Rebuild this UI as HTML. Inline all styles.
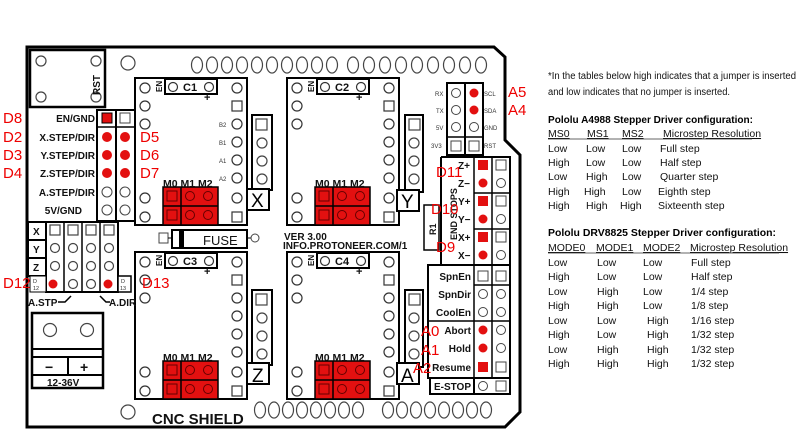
<!DOCTYPE html>
<html><head><meta charset="utf-8"><style>
html,body{margin:0;padding:0;background:#fff;width:800px;height:438px;overflow:hidden}
svg{display:block}
.b{font-family:"Liberation Sans",sans-serif;font-weight:bold;fill:#111}
.r{font-family:"Liberation Sans",sans-serif;fill:#e00;font-size:15px}
.t{font-family:"Liberation Sans",sans-serif;fill:#111;font-size:10.5px}
</style></head><body>
<svg width="800" height="438" viewBox="0 0 800 438" xmlns="http://www.w3.org/2000/svg">
<defs>
<g id="mod">
<rect x="0" y="0" width="112" height="147" fill="#fff" stroke="#000" stroke-width="2"/>
<rect x="30" y="1" width="52" height="15" fill="#fff" stroke="#000" stroke-width="2"/>
<g fill="#fff" stroke="#333" stroke-width="1.2">
<circle cx="38" cy="9" r="4.5"/><circle cx="74" cy="9" r="4.5"/>
<circle cx="10" cy="10" r="5"/><circle cx="10" cy="28" r="5"/><circle cx="10" cy="46" r="5"/><circle cx="10" cy="120" r="5"/><circle cx="10" cy="139" r="5"/>
<circle cx="102" cy="10" r="5"/><rect x="97" y="23" width="10" height="10"/><circle cx="102" cy="46" r="5"/><circle cx="102" cy="64" r="5"/><circle cx="102" cy="82" r="5"/><circle cx="102" cy="100" r="5"/><circle cx="102" cy="120" r="5"/><rect x="97" y="134" width="10" height="10"/>
</g>
<rect x="28" y="109" width="55" height="38" fill="#e31010" stroke="#000" stroke-width="1.5"/>
<line x1="28" y1="128" x2="83" y2="128" stroke="#000" stroke-width="1.5"/>
<line x1="46" y1="109" x2="46" y2="147" stroke="#000" stroke-width="1.5"/>
<g fill="none" stroke="#600" stroke-width="1">
<rect x="32" y="113" width="10" height="10"/><rect x="32" y="132" width="10" height="10"/>
<circle cx="55" cy="118" r="4.5"/><circle cx="73" cy="118" r="4.5"/><circle cx="55" cy="137" r="4.5"/><circle cx="73" cy="137" r="4.5"/>
</g>
</g>
</defs>

<path d="M27 47 L494 47 L505 57 L505 140 L520 155 L520 412 L505 427 L27 427 Z" fill="#fff" stroke="#000" stroke-width="3"/>
<rect x="30" y="50" width="75" height="57" fill="#fff" stroke="#000" stroke-width="2.5"/>
<g fill="none" stroke="#444" stroke-width="1.2">
<circle cx="41" cy="61" r="5"/><circle cx="96" cy="61" r="5"/><circle cx="41" cy="97" r="5"/><circle cx="96" cy="97" r="5"/>
<circle cx="128" cy="63" r="7"/><circle cx="128" cy="412" r="7"/>
<ellipse cx="197" cy="65" rx="5.5" ry="8"/><ellipse cx="212" cy="65" rx="5.5" ry="8"/><ellipse cx="227" cy="65" rx="5.5" ry="8"/><ellipse cx="242" cy="65" rx="5.5" ry="8"/><ellipse cx="257" cy="65" rx="5.5" ry="8"/><ellipse cx="272" cy="65" rx="5.5" ry="8"/><ellipse cx="287" cy="65" rx="5.5" ry="8"/><ellipse cx="302" cy="65" rx="5.5" ry="8"/><ellipse cx="317" cy="65" rx="5.5" ry="8"/><ellipse cx="332" cy="65" rx="5.5" ry="8"/>
<ellipse cx="353" cy="65" rx="5.5" ry="8"/><ellipse cx="369" cy="65" rx="5.5" ry="8"/><ellipse cx="385" cy="65" rx="5.5" ry="8"/><ellipse cx="401" cy="65" rx="5.5" ry="8"/><ellipse cx="417" cy="65" rx="5.5" ry="8"/><ellipse cx="433" cy="65" rx="5.5" ry="8"/><ellipse cx="449" cy="65" rx="5.5" ry="8"/><ellipse cx="465" cy="65" rx="5.5" ry="8"/><ellipse cx="481" cy="65" rx="5.5" ry="8"/>
<ellipse cx="260" cy="410" rx="5.5" ry="8"/><ellipse cx="274" cy="410" rx="5.5" ry="8"/><ellipse cx="288" cy="410" rx="5.5" ry="8"/><ellipse cx="302" cy="410" rx="5.5" ry="8"/><ellipse cx="316" cy="410" rx="5.5" ry="8"/><ellipse cx="330" cy="410" rx="5.5" ry="8"/><ellipse cx="344" cy="410" rx="5.5" ry="8"/><ellipse cx="358" cy="410" rx="5.5" ry="8"/>
<ellipse cx="388" cy="410" rx="5.5" ry="8"/><ellipse cx="402" cy="410" rx="5.5" ry="8"/><ellipse cx="416" cy="410" rx="5.5" ry="8"/><ellipse cx="430" cy="410" rx="5.5" ry="8"/><ellipse cx="444" cy="410" rx="5.5" ry="8"/><ellipse cx="458" cy="410" rx="5.5" ry="8"/><ellipse cx="472" cy="410" rx="5.5" ry="8"/><ellipse cx="486" cy="410" rx="5.5" ry="8"/>
</g>
<text class="b" font-size="10" transform="translate(100,95) rotate(-90)">RST</text>

<g fill="#fff" stroke="#000" stroke-width="2">
<rect x="252" y="115" width="20" height="75"/><rect x="405" y="115" width="18" height="77"/>
<rect x="252" y="290" width="20" height="75"/><rect x="405" y="290" width="18" height="77"/>
</g>
<g fill="none" stroke="#444" stroke-width="1.2">
<rect x="256" y="119" width="11" height="11"/><circle cx="262" cy="143" r="5"/><circle cx="262" cy="161" r="5"/><circle cx="262" cy="179" r="5"/>
<rect x="409" y="119" width="11" height="11"/><circle cx="414" cy="143" r="5"/><circle cx="414" cy="161" r="5"/><circle cx="414" cy="179" r="5"/>
<rect x="256" y="294" width="11" height="11"/><circle cx="262" cy="318" r="5"/><circle cx="262" cy="336" r="5"/><circle cx="262" cy="354" r="5"/>
<rect x="409" y="294" width="11" height="11"/><circle cx="414" cy="318" r="5"/><circle cx="414" cy="336" r="5"/><circle cx="414" cy="354" r="5"/>
</g>

<use href="#mod" x="135" y="78"/>
<use href="#mod" x="287" y="78"/>
<use href="#mod" x="135" y="252"/>
<use href="#mod" x="287" y="252"/>
<g class="b" font-size="11">
<text x="183" y="91">C1</text><text x="335" y="91">C2</text><text x="183" y="265">C3</text><text x="335" y="265">C4</text>
<text x="204" y="101">+</text><text x="356" y="101">+</text><text x="204" y="275">+</text><text x="356" y="275">+</text>
</g>
<g class="b" font-size="10.5">
<text x="163" y="187">M0 M1 M2</text><text x="315" y="187">M0 M1 M2</text><text x="163" y="361">M0 M1 M2</text><text x="315" y="361">M0 M1 M2</text>
</g>
<g class="b" font-size="8">
<text transform="translate(162,92) rotate(-90)">EN</text><text transform="translate(314,92) rotate(-90)">EN</text>
<text transform="translate(162,266) rotate(-90)">EN</text><text transform="translate(314,266) rotate(-90)">EN</text>
</g>
<g font-family="Liberation Sans,sans-serif" font-size="6" fill="#333">
<text x="219" y="127">B2</text><text x="219" y="145">B1</text><text x="219" y="163">A1</text><text x="219" y="181">A2</text>
</g>
<g fill="#fff" stroke="#000" stroke-width="2">
<rect x="247" y="189" width="22" height="21"/><rect x="397" y="190" width="22" height="21"/>
<rect x="247" y="363" width="22" height="21"/><rect x="397" y="363" width="22" height="21"/>
</g>
<g font-family="Liberation Sans,sans-serif" font-size="19" fill="#000">
<text x="251" y="207">X</text><text x="401" y="208">Y</text><text x="252" y="382">Z</text><text x="401" y="382">A</text>
</g>

<rect x="97" y="110" width="38" height="111" fill="#fff" stroke="#000" stroke-width="2"/>
<line x1="116" y1="110" x2="116" y2="221" stroke="#000" stroke-width="2"/>
<line x1="97" y1="127" x2="135" y2="127" stroke="#000" stroke-width="1.5"/>
<rect x="102" y="113" width="10" height="10" fill="#e31010" stroke="#000"/>
<rect x="120" y="113" width="10" height="10" fill="#fff" stroke="#444"/>
<g fill="#e31010"><circle cx="107" cy="137" r="5"/><circle cx="125" cy="137" r="5"/><circle cx="107" cy="155" r="5"/><circle cx="125" cy="155" r="5"/><circle cx="107" cy="173" r="5"/><circle cx="125" cy="173" r="5"/></g>
<g fill="none" stroke="#444"><circle cx="107" cy="192" r="5"/><circle cx="125" cy="192" r="5"/><circle cx="107" cy="210" r="5"/><circle cx="125" cy="210" r="5"/></g>
<g class="b" font-size="10" text-anchor="end">
<text x="95" y="122">EN/GND</text><text x="95" y="141">X.STEP/DIR</text><text x="95" y="159">Y.STEP/DIR</text><text x="95" y="177">Z.STEP/DIR</text><text x="95" y="196">A.STEP/DIR</text><text x="82" y="214">5V/GND</text>
</g>

<g fill="#fff" stroke="#000" stroke-width="2">
<rect x="28" y="222" width="18" height="18"/><rect x="28" y="240" width="18" height="18"/><rect x="28" y="258" width="18" height="18"/>
<rect x="46" y="222" width="72" height="70"/>
<rect x="30" y="276" width="16" height="16" stroke-width="1"/><rect x="118" y="276" width="13" height="16" stroke-width="1.5"/>
</g>
<g stroke="#000" stroke-width="1.5"><line x1="64" y1="222" x2="64" y2="292"/><line x1="82" y1="222" x2="82" y2="292"/><line x1="100" y1="222" x2="100" y2="292"/></g>
<g fill="none" stroke="#444" stroke-width="1.2">
<rect x="50" y="225" width="10" height="10"/><rect x="68" y="225" width="10" height="10"/><rect x="86" y="225" width="10" height="10"/><rect x="104" y="225" width="10" height="10"/>
<circle cx="55" cy="248" r="4.5"/><circle cx="73" cy="248" r="4.5"/><circle cx="91" cy="248" r="4.5"/><circle cx="109" cy="248" r="4.5"/>
<circle cx="55" cy="266" r="4.5"/><circle cx="73" cy="266" r="4.5"/><circle cx="91" cy="266" r="4.5"/><circle cx="109" cy="266" r="4.5"/>
<circle cx="73" cy="284" r="4.5"/><circle cx="91" cy="284" r="4.5"/>
</g>
<circle cx="53" cy="284" r="4.5" fill="#e31010"/><circle cx="108" cy="284" r="4.5" fill="#e31010"/>
<g class="b" font-size="10"><text x="33" y="235">X</text><text x="33" y="253">Y</text><text x="33" y="271">Z</text></g>
<g font-family="Liberation Sans,sans-serif" font-size="5.5" fill="#333"><text x="33" y="283">D</text><text x="33" y="290">12</text><text x="121" y="283">D</text><text x="120" y="290">13</text></g>
<path d="M58 302 L65 302 L71 296 M100 296 L106 302 L110 302" fill="none" stroke="#000" stroke-width="1.5"/>
<g class="b" font-size="10"><text x="28" y="306">A.STP</text><text x="109" y="306">A.DIR</text></g>

<rect x="32" y="313" width="71" height="75" fill="#fff" stroke="#000" stroke-width="2.5"/>
<g fill="none" stroke="#444" stroke-width="1.2"><circle cx="50" cy="330" r="6.5"/><circle cx="87" cy="330" r="6.5"/></g>
<line x1="32" y1="349" x2="103" y2="349" stroke="#000" stroke-width="2"/>
<line x1="32" y1="357" x2="103" y2="357" stroke="#000" stroke-width="2"/>
<line x1="32" y1="375" x2="103" y2="375" stroke="#000" stroke-width="2"/>
<line x1="68" y1="357" x2="68" y2="375" stroke="#000" stroke-width="2"/>
<g class="b" font-size="14"><text x="45" y="372">−</text><text x="80" y="372">+</text></g>
<text class="b" x="47" y="386" font-size="10">12-36V</text>

<rect x="172" y="230" width="75" height="18" fill="#fff" stroke="#000" stroke-width="2"/>
<rect x="179" y="231" width="5" height="16" fill="#000"/>
<rect x="159" y="233" width="9" height="10" fill="#fff" stroke="#444"/>
<line x1="168" y1="238" x2="172" y2="238" stroke="#000"/><line x1="247" y1="238" x2="251" y2="238" stroke="#000"/>
<circle cx="255" cy="238" r="4" fill="#fff" stroke="#444"/>
<text font-family="Liberation Sans,sans-serif" x="203" y="245" font-size="13" fill="#111">FUSE</text>
<text class="b" x="284" y="240" font-size="10">VER 3.00</text>
<text class="b" x="283" y="249" font-size="10">INFO.PROTONEER.COM/1</text>

<rect x="447" y="83" width="36" height="72" fill="#fff" stroke="#000" stroke-width="2"/>
<line x1="465" y1="83" x2="465" y2="155" stroke="#000" stroke-width="2"/>
<line x1="447" y1="137" x2="483" y2="137" stroke="#000" stroke-width="1.5"/>
<g fill="none" stroke="#444"><circle cx="456" cy="93" r="4.5"/><circle cx="456" cy="110" r="4.5"/><circle cx="456" cy="127" r="4.5"/><circle cx="474" cy="127" r="4.5"/><rect x="451" y="141" width="10" height="10"/><rect x="469" y="141" width="10" height="10"/></g>
<circle cx="474" cy="93" r="4.5" fill="#e31010"/><circle cx="474" cy="110" r="4.5" fill="#e31010"/>
<g font-family="Liberation Sans,sans-serif" font-size="6" fill="#333">
<text x="435" y="96">RX</text><text x="436" y="113">TX</text><text x="436" y="130">5V</text><text x="431" y="148">3V3</text>
<text x="484" y="96">SCL</text><text x="484" y="113">SDA</text><text x="484" y="130">GND</text><text x="484" y="148">RST</text>
</g>

<path d="M441 157 L510 157 L510 265 L441 265" fill="#fff" stroke="#000" stroke-width="2"/>
<line x1="441" y1="157" x2="441" y2="265" stroke="#000" stroke-width="2"/>
<g stroke="#000" stroke-width="1.5"><line x1="474" y1="157" x2="474" y2="265"/><line x1="492" y1="157" x2="492" y2="265"/><line x1="474" y1="193" x2="510" y2="193"/><line x1="474" y1="229" x2="510" y2="229"/></g>
<g fill="#e31010"><rect x="478" y="160" width="10" height="10"/><circle cx="483" cy="183" r="4.5"/><rect x="478" y="196" width="10" height="10"/><circle cx="483" cy="219" r="4.5"/><rect x="478" y="232" width="10" height="10"/><circle cx="483" cy="255" r="4.5"/></g>
<g fill="none" stroke="#444"><rect x="496" y="160" width="10" height="10"/><circle cx="501" cy="183" r="4.5"/><rect x="496" y="196" width="10" height="10"/><circle cx="501" cy="219" r="4.5"/><rect x="496" y="232" width="10" height="10"/><circle cx="501" cy="255" r="4.5"/></g>
<g class="b" font-size="10"><text x="458" y="169">Z+</text><text x="458" y="187">Z−</text><text x="458" y="205">Y+</text><text x="458" y="223">Y−</text><text x="458" y="241">X+</text><text x="458" y="259">X−</text></g>
<text class="b" font-size="9" transform="translate(457,240) rotate(-90)">END STOPS</text>
<rect x="424" y="205" width="15" height="45" fill="#fff" stroke="#000" stroke-width="1.5"/>
<text class="b" font-size="9" transform="translate(436,235) rotate(-90)">R1</text>

<rect x="428" y="265" width="82" height="113" fill="#fff" stroke="#000" stroke-width="2"/>
<g stroke="#000" stroke-width="1.5"><line x1="474" y1="265" x2="474" y2="378"/><line x1="492" y1="265" x2="492" y2="393"/><line x1="428" y1="321" x2="510" y2="321"/><line x1="474" y1="285" x2="510" y2="285"/></g>
<rect x="430" y="378" width="80" height="16" fill="#fff" stroke="#000" stroke-width="2"/>
<line x1="474" y1="378" x2="474" y2="394" stroke="#000" stroke-width="2"/>
<g fill="none" stroke="#444"><rect x="478" y="271" width="10" height="10"/><rect x="496" y="271" width="10" height="10"/><circle cx="483" cy="294" r="4.5"/><circle cx="501" cy="294" r="4.5"/><circle cx="483" cy="312" r="4.5"/><circle cx="501" cy="312" r="4.5"/><circle cx="501" cy="330" r="4.5"/><circle cx="501" cy="348" r="4.5"/><rect x="496" y="362" width="10" height="10"/><circle cx="483" cy="386" r="4.5"/><rect x="496" y="381" width="10" height="10"/></g>
<g fill="#e31010"><circle cx="483" cy="330" r="4.5"/><circle cx="483" cy="348" r="4.5"/><rect x="478" y="362" width="10" height="10"/></g>
<g class="b" font-size="10" text-anchor="end"><text x="471" y="280">SpnEn</text><text x="471" y="298">SpnDir</text><text x="471" y="316">CoolEn</text><text x="471" y="334">Abort</text><text x="471" y="352">Hold</text><text x="471" y="371">Resume</text><text x="471" y="390">E-STOP</text></g>

<g class="r">
<text x="3" y="123">D8</text><text x="3" y="142">D2</text><text x="3" y="160">D3</text><text x="3" y="178">D4</text>
<text x="140" y="142">D5</text><text x="140" y="160">D6</text><text x="140" y="178">D7</text>
<text x="3" y="288">D12</text><text x="142" y="288">D13</text>
<text x="508" y="97">A5</text><text x="508" y="115">A4</text>
<text x="436" y="177">D11</text><text x="431" y="214">D10</text><text x="436" y="252">D9</text>
<text x="421" y="336">A0</text><text x="421" y="355">A1</text><text x="413" y="373">A2</text>
</g>
<text class="b" x="152" y="424" font-size="15">CNC SHIELD</text>

<g class="t">
<text x="548" y="79" font-size="10" textLength="248" lengthAdjust="spacingAndGlyphs">*In the tables below high indicates that a jumper is inserted</text>
<text x="548" y="95" font-size="10" textLength="182" lengthAdjust="spacingAndGlyphs">and low indicates that no jumper is inserted.</text>
<text x="548" y="123" font-weight="bold" fill="#000" textLength="205" lengthAdjust="spacingAndGlyphs">Pololu A4988 Stepper Driver configuration:</text>
<g text-decoration="underline"><text x="548" y="137">MS0</text><text x="587" y="137">MS1</text><text x="622" y="137">MS2</text><text x="663" y="137">Microstep Resolution</text></g>
<line x1="548" y1="139" x2="752" y2="139" stroke="#333" stroke-width="0.8"/>
<text x="548" y="152">Low</text><text x="586" y="152">Low</text><text x="622" y="152">Low</text><text x="660" y="152">Full step</text>
<text x="548" y="166">High</text><text x="586" y="166">Low</text><text x="622" y="166">Low</text><text x="660" y="166">Half step</text>
<text x="548" y="180">Low</text><text x="586" y="180">High</text><text x="622" y="180">Low</text><text x="660" y="180">Quarter step</text>
<text x="548" y="195">High</text><text x="584" y="195">High</text><text x="622" y="195">Low</text><text x="658" y="195">Eighth step</text>
<text x="548" y="209">High</text><text x="586" y="209">High</text><text x="620" y="209">High</text><text x="658" y="209">Sixteenth step</text>
<text x="548" y="236" font-weight="bold" fill="#000" textLength="228" lengthAdjust="spacingAndGlyphs">Pololu DRV8825 Stepper Driver configuration:</text>
<g text-decoration="underline"><text x="548" y="251">MODE0</text><text x="596" y="251">MODE1</text><text x="643" y="251">MODE2</text><text x="690" y="251">Microstep Resolution</text></g>
<line x1="548" y1="253" x2="779" y2="253" stroke="#333" stroke-width="0.8"/>
<text x="548" y="266">Low</text><text x="597" y="266">Low</text><text x="643" y="266">Low</text><text x="691" y="266">Full step</text>
<text x="548" y="280">High</text><text x="597" y="280">Low</text><text x="643" y="280">Low</text><text x="691" y="280">Half step</text>
<text x="548" y="295">Low</text><text x="597" y="295">High</text><text x="643" y="295">Low</text><text x="691" y="295">1/4 step</text>
<text x="548" y="309">High</text><text x="597" y="309">High</text><text x="643" y="309">Low</text><text x="691" y="309">1/8 step</text>
<text x="548" y="324">Low</text><text x="597" y="324">Low</text><text x="647" y="324">High</text><text x="691" y="324">1/16 step</text>
<text x="548" y="338">High</text><text x="597" y="338">Low</text><text x="647" y="338">High</text><text x="691" y="338">1/32 step</text>
<text x="548" y="353">Low</text><text x="597" y="353">High</text><text x="647" y="353">High</text><text x="691" y="353">1/32 step</text>
<text x="548" y="367">High</text><text x="597" y="367">High</text><text x="647" y="367">High</text><text x="691" y="367">1/32 step</text>
</g>
</svg>
</body></html>
